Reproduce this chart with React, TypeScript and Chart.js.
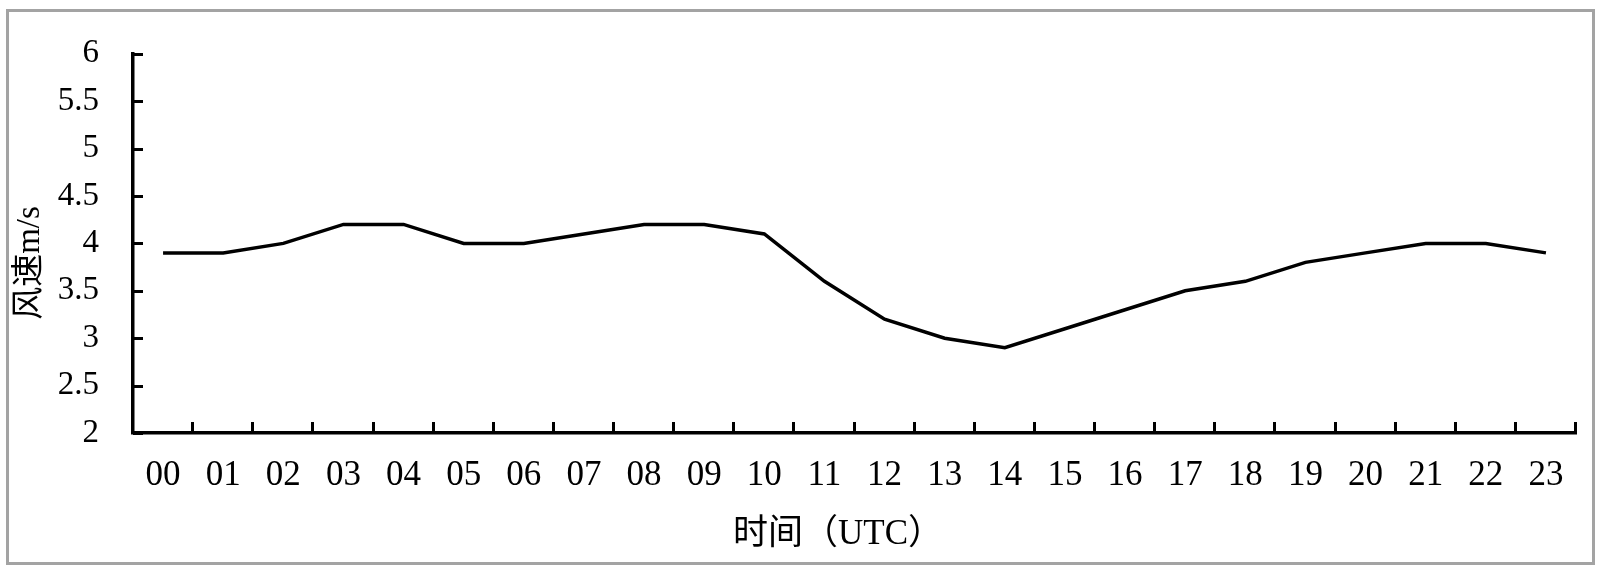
import React, { useEffect, useRef } from "react";
import { Chart, registerables } from "chart.js";

Chart.register(...registerables);

const hours: string[] = [
  "00", "01", "02", "03", "04", "05", "06", "07", "08", "09", "10", "11",
  "12", "13", "14", "15", "16", "17", "18", "19", "20", "21", "22", "23",
];
const windSpeed: number[] = [
  3.9, 3.9, 4.0, 4.2, 4.2, 4.0, 4.0, 4.1, 4.2, 4.2, 4.1, 3.6,
  3.2, 3.0, 2.9, 3.1, 3.3, 3.5, 3.6, 3.8, 3.9, 4.0, 4.0, 3.9,
];
const yMin = 2;
const yMax = 6;
const yStep = 0.5;
const xTitle = "时间（UTC）";
const yTitle = "风速m/s";

const FONT = '"Liberation Serif", "Noto Sans CJK SC", serif';

const framePlugin = {
  id: "frame",
  beforeDraw(chart: any) {
    const ctx = chart.ctx;
    ctx.save();
    ctx.fillStyle = "#ffffff";
    ctx.fillRect(0, 0, chart.width, chart.height);
    ctx.strokeStyle = "#a3a3a3";
    ctx.lineWidth = 3;
    ctx.strokeRect(7.5, 10.5, 1586, 553);
    ctx.restore();
  },
  afterDraw(chart: any) {
    const ctx = chart.ctx;
    const { left, right, bottom } = chart.chartArea;
    const xs = chart.scales.x;
    const ys = chart.scales.y;
    ctx.save();
    ctx.strokeStyle = "#000000";
    ctx.lineWidth = 3;
    ctx.lineCap = "butt";
    ys.ticks.forEach((t: any) => {
      const py = Math.round(ys.getPixelForValue(t.value)) + 0.5;
      ctx.beginPath();
      ctx.moveTo(left, py);
      ctx.lineTo(left + 10, py);
      ctx.stroke();
    });
    for (let i = 1; i <= hours.length; i++) {
      const px =
        i < hours.length
          ? (xs.getPixelForValue(i - 1) + xs.getPixelForValue(i)) / 2
          : right;
      const rx = Math.round(px) - 0.5;
      ctx.beginPath();
      ctx.moveTo(rx, bottom);
      ctx.lineTo(rx, bottom - 11);
      ctx.stroke();
    }
    ctx.fillStyle = "#000000";
    ctx.textAlign = "center";
    ctx.textBaseline = "middle";
    ctx.font = `35px ${FONT}`;
    ctx.fillText(xTitle, 838, 535);
    ctx.font = `33px ${FONT}`;
    ctx.translate(30, 263);
    ctx.rotate(-Math.PI / 2);
    ctx.fillText(yTitle, 0, 0);
    ctx.restore();
  },
};

export default function App() {
  const ref = useRef<HTMLCanvasElement | null>(null);

  useEffect(() => {
    const canvas = ref.current;
    if (!canvas) return;
    const chart = new Chart(canvas, {
      type: "line",
      data: {
        labels: hours,
        datasets: [
          {
            data: windSpeed,
            borderColor: "#000000",
            borderWidth: 3.5,
            pointRadius: 0,
            tension: 0,
            fill: false,
          },
        ],
      },
      options: {
        animation: false,
        responsive: false,
        devicePixelRatio: 1,
        layout: { padding: { top: 38, right: 24, left: 0, bottom: 0 } },
        plugins: {
          legend: { display: false },
          tooltip: { enabled: false },
        },
        scales: {
          x: {
            offset: true,
            grid: { display: false, drawTicks: false, offset: true },
            border: { display: true, color: "#000000", width: 3.5 },
            ticks: {
              color: "#000000",
              font: { family: FONT, size: 35 },
              padding: 22,
              maxRotation: 0,
              autoSkip: false,
            },
            afterFit(scale: any) {
              scale.height = 139;
            },
          },
          y: {
            min: yMin,
            max: yMax,
            grid: { display: false, drawTicks: false },
            border: { display: true, color: "#000000", width: 3.5 },
            ticks: {
              stepSize: yStep,
              color: "#000000",
              font: { family: FONT, size: 33 },
              padding: 34,
              callback: (v: any) => String(Number(v)),
            },
            afterFit(scale: any) {
              scale.width = 133;
            },
          },
        },
      },
      plugins: [framePlugin],
    });
    return () => chart.destroy();
  }, []);

  return (
    <div style={{ position: "fixed", left: 0, top: 0, width: 1600, height: 572, background: "#fff" }}>
      <canvas ref={ref} width={1600} height={572} />
    </div>
  );
}
